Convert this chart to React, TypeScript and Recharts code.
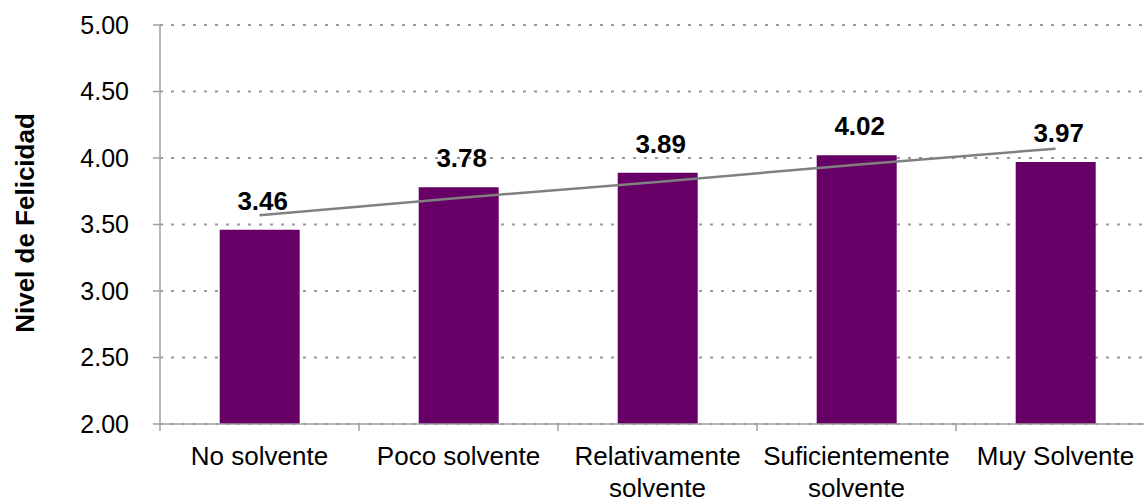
import { ComposedChart, Bar, Line, XAxis, YAxis, CartesianGrid, LabelList } from 'recharts';

const categories = ['No solvente', 'Poco solvente', 'Relativamente solvente', 'Suficientemente solvente', 'Muy Solvente'];
const felicidad = [3.46, 3.78, 3.89, 4.02, 3.97];
// linear trend line at each category centre
const tendencia = [3.57, 3.70, 3.82, 3.95, 4.07];
const yTicks = [2, 2.5, 3, 3.5, 4, 4.5, 5];

const FONT = '"Liberation Sans", Arial, Helvetica, sans-serif';
const W = 1160;
const H = 497;
const margin = { top: 25, right: 5, bottom: 0, left: 0 };
const Y_WIDTH = 160;
const band = (W - margin.left - margin.right - Y_WIDTH) / categories.length;

const data = categories.map((name, i) => ({
  name,
  felicidad: felicidad[i],
  tendencia: tendencia[i],
}));

function splitLabel(s: string): string[] {
  if (s.length <= 14) return [s];
  const i = s.lastIndexOf(' ');
  return [s.slice(0, i), s.slice(i + 1)];
}

function XTick(props: any) {
  const { x, y, payload } = props;
  const lines = splitLabel(String(payload.value));
  const axisY = y - 23;
  return (
    <g>
      <line x1={x - band / 2} x2={x - band / 2} y1={axisY} y2={axisY + 7} stroke="#a0a0a0" strokeWidth={1.5} />
      <text x={x} y={y} textAnchor="middle" fontSize={26} fill="#000" fontFamily={FONT}>
        {lines.map((l, i) => (
          <tspan key={i} x={x} dy={i === 0 ? '0.69em' : '1.22em'}>{l}</tspan>
        ))}
      </text>
    </g>
  );
}

function BarValue(props: any) {
  const { x, y, width, value } = props;
  return (
    <text x={x + width / 2 + 3} y={y - 20} textAnchor="middle" fontSize={26} fontWeight="bold" fill="#000" fontFamily={FONT}>
      {Number(value).toFixed(2)}
    </text>
  );
}

function YTitle() {
  return (
    <text transform="translate(34, 223) rotate(-90)" textAnchor="middle" fontSize={26} fontWeight="bold" fill="#000" fontFamily={FONT}>
      Nivel de Felicidad
    </text>
  );
}

export default function App() {
  return (
    <div style={{ position: 'absolute', left: 0, top: 0, width: 1144, height: H, overflow: 'hidden', background: '#fff' }}>
      <ComposedChart width={W} height={H} data={data} margin={margin} barCategoryGap="30%">
        <CartesianGrid horizontal vertical={false} stroke="#999" strokeDasharray="3 8" strokeWidth={2} />
        <XAxis
          dataKey="name"
          height={73}
          interval={0}
          stroke="#a0a0a0"
          strokeWidth={1.5}
          tickLine={false}
          tickSize={7}
          tickMargin={16}
          tick={<XTick />}
        />
        <YAxis
          domain={[2, 5]}
          ticks={yTicks}
          width={Y_WIDTH}
          stroke="#a0a0a0"
          strokeWidth={1.5}
          tickSize={7}
          tickMargin={24}
          tickFormatter={(v: number) => v.toFixed(2)}
          tick={{ fill: '#000', fontSize: 25, fontFamily: FONT }}
          label={<YTitle />}
        />
        <Bar dataKey="felicidad" fill="#660066" isAnimationActive={false}>
          <LabelList dataKey="felicidad" content={<BarValue />} />
        </Bar>
        <Line dataKey="tendencia" type="linear" stroke="#808080" strokeWidth={2.5} dot={false} activeDot={false} isAnimationActive={false} />
      </ComposedChart>
    </div>
  );
}
